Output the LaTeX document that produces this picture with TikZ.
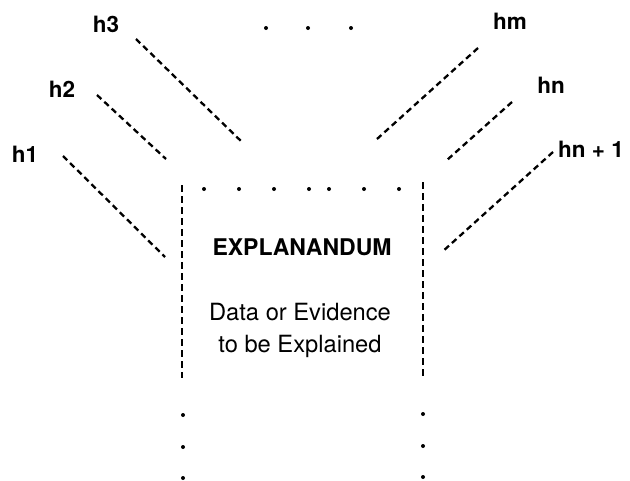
\documentclass[tikz,border=0pt]{standalone}
\usepackage{fontspec}
\setmainfont{TeX Gyre Heros}
\usepackage{tikz}
\usetikzlibrary{positioning}
\tikzstyle{hypline} = [draw, line width=2.3pt, dash pattern=on 6pt off 4pt]
\tikzstyle{wall} = [draw, line width=2.3pt, dash pattern=on 7pt off 4pt]
\tikzstyle{hyp} = [font=\bfseries\fontsize{22.5}{26}\selectfont, inner sep=0pt, anchor=base]
\tikzstyle{title} = [font=\bfseries\fontsize{23}{30}\selectfont, inner sep=0pt, anchor=base]
\tikzstyle{body} = [font=\fontsize{23.7}{32}\selectfont, align=center, inner sep=0pt, anchor=base]
\tikzstyle{pip} = [fill, circle, inner sep=0pt, minimum size=4pt]

\begin{document}
\begin{tikzpicture}[x=1pt, y=-1pt]

      \useasboundingbox (0,0) rectangle (630,480);

      %
      % Hypotheses
      %

      \node [hyp] (h1) at (25,162) {h1};
      \node [hyp] (h2) at (62,97) {h2};
      \node [hyp] (h3) at (106,32) {h3};
      \node [hyp] (hm) at (510,29) {hm};
      \node [hyp] (hn) at (551,93) {hn};
      \node [hyp, anchor=base west] (hn1) at (558,157) {hn + 1};

      \coordinate (h1a) at (63,156);  \coordinate (h1b) at (165,257);
      \coordinate (h2a) at (97,95);   \coordinate (h2b) at (166,159);
      \coordinate (h3a) at (136,39);  \coordinate (h3b) at (243,143);
      \coordinate (hma) at (478,48);  \coordinate (hmb) at (377,139);
      \coordinate (hna) at (512,102); \coordinate (hnb) at (447,160);
      \coordinate (hn1a) at (553,152); \coordinate (hn1b) at (442,252);

      \path [hypline] (h1a) -- (h1b);
      \path [hypline] (h2a) -- (h2b);
      \path [hypline] (h3a) -- (h3b);
      \path [hypline] (hma) -- (hmb);
      \path [hypline] (hna) -- (hnb);
      \path [hypline] (hn1a) -- (hn1b);

      \foreach \x [count=\i] in {266,308,351}
        \node [pip] (top\i) at (\x,28) {};

      %
      % Explanandum
      %

      \coordinate (lt) at (182,185); \coordinate (lb) at (182,378);
      \coordinate (rt) at (423,182); \coordinate (rb) at (423,378);
      \path [wall] (lt) -- (lb);
      \path [wall] (rt) -- (rb);

      \foreach \x [count=\i] in {204,239,274,309,329,364,399}
        \node [pip] (lid\i) at (\x,189) {};

      \foreach \y [count=\i] in {415,447,478} {
        \node [pip] (ld\i) at (183,\y) {};
        \node [pip] (rd\i) at (423,\y-1) {};
      }

      \node [title] (explanandum) at (302,255) {EXPLANANDUM};
      \node [body] (data) at (300,352) {Data or Evidence\\to be Explained};

\end{tikzpicture}
\end{document}
